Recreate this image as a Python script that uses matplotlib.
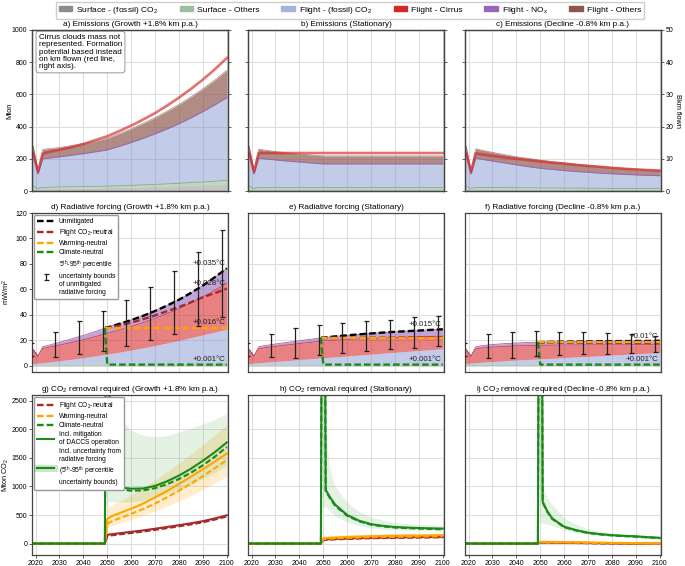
import matplotlib
matplotlib.use('Agg')
import matplotlib.pyplot as plt
import numpy as np
from matplotlib.patches import Patch
from matplotlib.lines import Line2D

plt.rcParams['font.family'] = ['Liberation Sans', 'DejaVu Sans']
plt.rcParams['font.size'] = 5.5
plt.rcParams['mathtext.fontset'] = 'custom'
plt.rcParams['mathtext.rm'] = 'Liberation Sans'
plt.rcParams['mathtext.it'] = 'Liberation Sans:italic'
plt.rcParams['mathtext.bf'] = 'Liberation Sans:bold'

# ---------------- data ----------------
years = [2018, 2019, 2021, 2023, 2025, 2030, 2035, 2040, 2045, 2050,
         2055, 2060, 2065, 2070, 2075, 2080, 2085, 2090, 2095, 2100]

# emissions (Mton, cumulative tops of the stacked layers)
em_gray_growth = [21, 20, 10, 15, 16, 17, 18, 19, 20, 21, 22, 24, 26, 28, 30, 33, 36, 39, 42, 46]
em_surf_growth = [30, 29, 15, 22, 23, 25, 26, 27, 29, 30, 32, 35, 38, 41, 44, 48, 52, 56, 61, 66]
em_co2_growth = [235, 232, 105, 200, 203, 212, 222, 232, 243, 255, 277, 301, 327, 355, 385, 418, 454, 493, 535, 580]
em_tot_growth = [285, 278, 130, 258, 262, 270, 282, 295, 310, 328, 356, 387, 420, 456, 496, 538, 585, 635, 690, 750]
km_growth = [11.6, 11.7, 5.9, 11.6, 12.0, 12.8, 13.6, 14.6, 15.8, 17.0, 18.6, 20.3, 22.2, 24.2, 26.5, 29.0, 31.7, 34.6, 37.8, 41.3]

em_gray_stat = [21, 20, 10, 15, 15, 15, 15, 15, 15, 15, 15, 15, 15, 15, 15, 15, 15, 15, 15, 15]
em_surf_stat = [30, 29, 15, 22, 22, 22, 22, 22, 22, 22, 22, 22, 22, 22, 22, 22, 22, 22, 22, 22]
em_co2_stat = [235, 232, 105, 203, 200, 193, 186, 180, 174, 168, 168, 168, 168, 168, 168, 168, 168, 168, 168, 168]
em_tot_stat = [285, 278, 130, 260, 255, 245, 237, 230, 224, 218, 218, 218, 218, 218, 218, 218, 218, 218, 218, 218]
km_stat = [11.6, 11.7, 5.9, 11.8, 11.8, 11.8, 11.8, 11.8, 11.8, 11.8, 11.8, 11.8, 11.8, 11.8, 11.8, 11.8, 11.8, 11.8, 11.8, 11.8]

em_gray_decl = [21, 20, 10, 15, 15, 14, 14, 14, 13, 13, 13, 12, 12, 12, 11, 11, 11, 10, 10, 10]
em_surf_decl = [30, 29, 15, 22, 22, 21, 21, 20, 20, 19, 19, 18, 18, 17, 17, 16, 16, 15, 15, 15]
em_co2_decl = [235, 232, 105, 203, 198, 186, 174, 162, 151, 141, 134, 127, 121, 116, 111, 107, 103, 100, 97, 95]
em_tot_decl = [285, 278, 130, 262, 255, 240, 226, 213, 202, 192, 183, 175, 167, 160, 153, 147, 142, 137, 133, 130]
km_decl = [11.6, 11.7, 5.9, 11.7, 11.4, 10.9, 10.4, 10.0, 9.6, 9.2, 8.8, 8.5, 8.1, 7.8, 7.5, 7.2, 6.9, 6.7, 6.5, 6.3]

# radiative forcing (mW/m2, cumulative tops)
rf_surf_growth = [0.8, 0.8, 0.8, 0.8, 0.8, 0.9, 0.9, 1.0, 1.0, 1.1, 1.1, 1.2, 1.3, 1.3, 1.4, 1.5, 1.6, 1.6, 1.7, 1.8]
rf_co2_growth = [1.5, 1.7, 2.0, 2.3, 2.7, 3.8, 5.0, 6.3, 7.7, 9.0, 10.6, 12.2, 14.0, 15.8, 17.8, 19.8, 22.0, 24.2, 26.4, 28.5]
rf_cir_growth = [12.5, 12.4, 7.3, 13.5, 14.3, 16.2, 18.2, 20.3, 22.8, 25.5, 28.0, 30.8, 33.8, 37.2, 40.8, 44.8, 49.2, 54.0, 59.2, 65.0]
rf_tot_growth = [12.8, 12.8, 7.5, 14.8, 15.8, 18.3, 21.0, 23.8, 26.8, 30.0, 32.8, 35.8, 39.2, 43.0, 47.2, 51.8, 57.2, 63.0, 69.5, 76.5]

rf_surf_stat = [0.8, 0.8, 0.8, 0.8, 0.8, 0.8, 0.8, 0.9, 0.9, 0.9, 0.9, 0.9, 0.9, 1.0, 1.0, 1.0, 1.0, 1.0, 1.0, 1.0]
rf_co2_stat = [1.5, 1.7, 2.0, 2.3, 2.6, 3.3, 4.0, 4.8, 5.5, 6.2, 6.9, 7.6, 8.3, 9.0, 9.8, 10.5, 11.2, 11.9, 12.6, 13.3]
rf_cir_stat = [12.5, 12.4, 7.3, 13.2, 14.0, 15.2, 16.3, 17.4, 18.4, 19.4, 20.0, 20.5, 21.0, 21.4, 21.8, 22.1, 22.4, 22.7, 23.0, 23.2]
rf_tot_stat = [12.8, 12.8, 7.5, 14.8, 15.6, 17.0, 18.3, 19.5, 20.8, 22.0, 23.0, 23.8, 24.6, 25.3, 26.0, 26.6, 27.1, 27.6, 28.1, 28.6]

rf_surf_decl = [0.8, 0.8, 0.8, 0.8, 0.8, 0.8, 0.8, 0.8, 0.8, 0.8, 0.8, 0.8, 0.8, 0.8, 0.8, 0.8, 0.8, 0.8, 0.8, 0.8]
rf_co2_decl = [1.5, 1.7, 2.0, 2.3, 2.6, 3.2, 3.8, 4.4, 4.9, 5.3, 5.8, 6.3, 6.8, 7.3, 7.8, 8.3, 8.8, 9.3, 9.8, 10.3]
rf_cir_decl = [12.5, 12.4, 7.3, 13.2, 13.8, 14.6, 15.1, 15.5, 15.8, 16.0, 16.1, 16.2, 16.3, 16.3, 16.4, 16.4, 16.4, 16.5, 16.5, 16.5]
rf_tot_decl = [12.8, 12.8, 7.5, 14.8, 15.5, 16.6, 17.3, 17.8, 18.2, 18.5, 18.7, 18.9, 19.0, 19.1, 19.2, 19.3, 19.3, 19.4, 19.4, 19.6]

# mitigated radiative forcing pathways
mit_years = [2049, 2050, 2055, 2060, 2065, 2070, 2075, 2080, 2085, 2090, 2095, 2100]
unmit_growth = [30.0, 30.0, 32.8, 35.8, 39.2, 43.0, 47.2, 51.8, 57.2, 63.0, 69.5, 76.5]
co2n_growth = [29.5, 29.5, 31.5, 33.8, 36.5, 39.5, 42.8, 46.0, 49.8, 53.8, 57.0, 60.5]
warmn_growth = [29.5, 29.5, 29.5, 29.5, 29.5, 29.5, 29.5, 29.5, 29.5, 29.5, 29.5, 29.5]
climn_growth = [29.5, 0.8, 0.8, 0.8, 0.8, 0.8, 0.8, 0.8, 0.8, 0.8, 0.8, 0.8]

unmit_stat = [22.0, 22.0, 23.0, 23.8, 24.6, 25.3, 26.0, 26.6, 27.1, 27.6, 28.1, 28.6]
co2n_stat = [21.6, 21.6, 21.7, 21.8, 21.9, 22.0, 22.0, 22.1, 22.1, 22.2, 22.2, 22.3]
warmn_stat = [22.0, 22.0, 22.0, 22.0, 22.0, 22.0, 22.0, 22.0, 22.0, 22.0, 22.0, 22.0]
climn_stat = [22.0, 0.8, 0.8, 0.8, 0.8, 0.8, 0.8, 0.8, 0.8, 0.8, 0.8, 0.8]

unmit_decl = [18.5, 18.5, 18.7, 18.9, 19.0, 19.1, 19.2, 19.3, 19.3, 19.4, 19.4, 19.6]
co2n_decl = [18.2, 18.2, 18.2, 18.1, 18.1, 18.0, 18.0, 17.9, 17.9, 17.8, 17.8, 17.7]
warmn_decl = [18.5, 18.5, 18.5, 18.5, 18.5, 18.5, 18.5, 18.5, 18.5, 18.5, 18.5, 18.5]
climn_decl = [18.5, 0.8, 0.8, 0.8, 0.8, 0.8, 0.8, 0.8, 0.8, 0.8, 0.8, 0.8]

# 5th-95th percentile bounds of unmitigated forcing
err_years = [2018, 2028, 2038, 2048, 2058, 2068, 2078, 2088, 2098]
err_lo_growth = [7.3, 6.8, 9.1, 11.8, 15.7, 19.9, 24.8, 31.4, 38.2]
err_hi_growth = [17.8, 26.4, 34.8, 43.0, 51.8, 61.7, 74.5, 89.0, 106.7]
err_lo_stat = [7.3, 6.5, 5.8, 8.4, 10.0, 11.4, 12.7, 14.0, 15.4]
err_hi_stat = [17.8, 25.0, 29.5, 31.6, 33.5, 34.8, 36.1, 37.9, 38.7]
err_lo_decl = [7.3, 6.0, 6.0, 7.3, 8.4, 9.1, 9.4, 9.7, 10.5]
err_hi_decl = [17.8, 24.6, 26.4, 27.5, 26.4, 26.4, 25.6, 24.6, 23.5]

# CO2 removal required (Mton CO2)
cdr_years = [2018, 2049, 2050, 2051, 2053, 2055, 2060, 2065, 2070, 2075, 2080, 2085, 2090, 2095, 2100]
band_years = [2050, 2051, 2053, 2055, 2060, 2065, 2070, 2075, 2080, 2085, 2090, 2095, 2100]

cdr_red_growth = [0, 0, 150, 160, 170, 180, 205, 230, 260, 290, 322, 355, 392, 440, 495]
cdr_red_d_growth = [0, 0, 130, 140, 150, 160, 185, 210, 240, 270, 302, 335, 372, 420, 475]
cdr_org_growth = [0, 0, 430, 460, 500, 530, 610, 700, 810, 920, 1045, 1170, 1300, 1435, 1575]
cdr_org_d_growth = [0, 0, 340, 370, 410, 440, 520, 605, 700, 810, 925, 1050, 1180, 1320, 1460]
cdr_grn_growth = [0, 0, 12000, 1060, 1010, 985, 960, 965, 1010, 1090, 1190, 1310, 1450, 1600, 1770]
cdr_grn_d_growth = [0, 0, 12000, 1020, 975, 950, 925, 930, 970, 1040, 1130, 1240, 1370, 1520, 1690]
band_grn_lo_growth = [700, 720, 720, 720, 720, 740, 790, 850, 930, 1020, 1120, 1230, 1350]
band_grn_hi_growth = [12000, 3000, 2400, 2200, 1980, 1890, 1860, 1880, 1940, 2010, 2080, 2160, 2260]
band_org_lo_growth = [280, 300, 330, 360, 420, 490, 570, 650, 740, 840, 950, 1060, 1180]
band_org_hi_growth = [620, 650, 700, 740, 850, 980, 1110, 1260, 1410, 1570, 1730, 1900, 2080]

cdr_red_stat = [0, 0, 70, 74, 78, 82, 90, 96, 101, 105, 108, 111, 113, 115, 117]
cdr_red_d_stat = [0, 0, 62, 66, 70, 74, 82, 88, 93, 97, 100, 103, 105, 107, 109]
cdr_org_stat = [0, 0, 90, 95, 100, 105, 115, 122, 128, 132, 136, 139, 141, 143, 145]
cdr_org_d_stat = [0, 0, 80, 84, 88, 92, 100, 106, 111, 115, 118, 121, 123, 125, 127]
cdr_grn_stat = [0, 0, 12000, 940, 800, 680, 500, 400, 340, 310, 290, 280, 272, 266, 262]
cdr_grn_d_stat = [0, 0, 12000, 920, 780, 660, 485, 390, 330, 300, 280, 270, 262, 256, 250]
band_grn_lo_stat = [600, 650, 560, 480, 370, 305, 265, 245, 235, 228, 222, 218, 215]
band_grn_hi_stat = [12000, 2000, 1300, 1000, 720, 560, 460, 400, 360, 340, 325, 315, 308]
band_org_lo_stat = [50, 55, 60, 64, 72, 80, 86, 90, 94, 97, 99, 101, 103]
band_org_hi_stat = [130, 135, 140, 145, 155, 162, 168, 172, 176, 179, 181, 183, 185]

cdr_red_decl = [0, 0, 22, 21, 20, 19, 16, 13, 10, 7, 4, 2, 0, -1, -2]
cdr_red_d_decl = [0, 0, 18, 17, 16, 15, 12, 9, 6, 3, 1, -1, -2, -3, -4]
cdr_org_decl = [0, 0, 32, 31, 30, 29, 26, 23, 20, 17, 14, 11, 9, 6, 4]
cdr_org_d_decl = [0, 0, 25, 24, 23, 22, 19, 16, 13, 10, 7, 5, 3, 1, 0]
cdr_grn_decl = [0, 0, 12000, 730, 560, 440, 295, 235, 190, 165, 147, 135, 126, 112, 100]
cdr_grn_d_decl = [0, 0, 12000, 720, 550, 430, 287, 228, 184, 160, 142, 130, 121, 108, 96]
band_grn_lo_decl = [350, 360, 330, 310, 230, 180, 160, 140, 120, 105, 90, 80, 70]
band_grn_hi_decl = [12000, 1000, 800, 680, 450, 330, 250, 210, 180, 160, 150, 140, 130]
band_org_lo_decl = [10, 10, 9, 9, 8, 6, 4, 2, 0, -2, -4, -6, -8]
band_org_hi_decl = [50, 48, 47, 46, 43, 40, 37, 34, 31, 28, 25, 22, 20]

scen_names = ['Growth +1.8% km p.a.', 'Stationary', 'Decline -0.8% km p.a.']

# ---------------- style ----------------
C_SURF_CO2 = '#7f7f7f'
C_SURF_OTH = '#7fb07f'
C_FLT_CO2 = '#8193cf'
C_CIRRUS = '#d62728'
C_NOX = '#9467bd'
C_OTHERS = '#8c564b'
C_RED = '#a52a2a'
C_ORG = '#ffa500'
C_GRN = '#1a8a1a'
DASH = (2.8, 1.3)
TICK_FS = 5.0
TITLE_FS = 5.9
LAB_FS = 5.3
LEG_FS = 4.8

W, H = 685, 566
COLS = [(32, 228), (248, 444), (465, 661)]
ROWS = [(30, 191), (213, 372), (395, 555)]

fig = plt.figure(figsize=(W / 100, H / 100), dpi=100)


def add_ax(col, row):
    x0, x1 = COLS[col]
    y0, y1 = ROWS[row]
    ax = fig.add_axes([x0 / W, 1 - y1 / H, (x1 - x0) / W, (y1 - y0) / H])
    ax.grid(True, color='#dcdcdc', lw=0.7)
    ax.set_axisbelow(True)
    for s in ax.spines.values():
        s.set_color('#444444')
        s.set_linewidth(0.9)
    ax.set_xlim(2018.5, 2100.5)
    ax.set_xticks(range(2020, 2101, 10))
    ax.tick_params(length=2, width=0.6, color='#444444', labelsize=TICK_FS, pad=1.5)
    if row < 2:
        ax.tick_params(axis='x', labelbottom=False, length=0)
    if col > 0:
        ax.tick_params(axis='y', labelleft=False)
    return ax


def small_legend(ax, handles, labels):
    ax.legend(handles, labels, loc='upper left', fontsize=LEG_FS, handlelength=2.5,
              handletextpad=0.7, labelspacing=0.3, borderpad=0.5, borderaxespad=0.3,
              framealpha=1, edgecolor='#999999')


# ---------------- row 1: emissions ----------------
emis = [(em_gray_growth, em_surf_growth, em_co2_growth, em_tot_growth, km_growth),
        (em_gray_stat, em_surf_stat, em_co2_stat, em_tot_stat, km_stat),
        (em_gray_decl, em_surf_decl, em_co2_decl, em_tot_decl, km_decl)]
for i, (gray, surf, co2, tot, km) in enumerate(emis):
    ax = add_ax(i, 0)
    ax.fill_between(years, 0, gray, color=C_SURF_CO2, alpha=0.45, lw=0)
    ax.fill_between(years, gray, surf, color=C_SURF_OTH, alpha=0.5, lw=0)
    ax.plot(years, surf, color=C_SURF_OTH, lw=0.6)
    ax.fill_between(years, surf, co2, color=C_FLT_CO2, alpha=0.48, lw=0)
    ax.plot(years, co2, color=C_NOX, lw=0.7)
    ax.fill_between(years, co2, tot, color=C_OTHERS, alpha=0.68, lw=0)
    ax.plot(years, tot, color=C_OTHERS, lw=0.5, alpha=0.7)
    ax.set_ylim(0, 1000)
    ax.set_yticks(range(0, 1001, 200))
    ax.tick_params(axis='x', length=0)
    ax.set_title('%s) Emissions (%s)' % ('abc'[i], scen_names[i]), fontsize=TITLE_FS, pad=3)
    ax2 = ax.twinx()
    ax2.plot(years, km, color=C_CIRRUS, lw=1.9, alpha=0.65)
    ax2.set_ylim(0, 50)
    ax2.set_yticks(range(0, 51, 10))
    ax2.tick_params(length=2, width=0.6, color='#444444', labelsize=TICK_FS, pad=1.5,
                    labelright=(i == 2))
    for s in ax2.spines.values():
        s.set_color('#444444')
        s.set_linewidth(0.9)
    if i == 0:
        ax.set_ylabel('Mton', fontsize=LAB_FS)
        ax.yaxis.set_label_coords(-0.095, 0.5)
        ax.text(0.035, 0.975, 'Cirrus clouds mass not\nrepresented. Formation\npotential based instead\n'
                'on km flown (red line,\nright axis).', transform=ax.transAxes, fontsize=5.8,
                va='top', ha='left', linespacing=1.05,
                bbox=dict(boxstyle='round,pad=0.35', fc='white', ec='#888888', lw=0.6))
    if i == 2:
        ax2.set_ylabel('Bkm flown', fontsize=LAB_FS, rotation=270)
        ax2.yaxis.set_label_coords(1.1, 0.5)

# ---------------- row 2: radiative forcing ----------------
rf = [(rf_surf_growth, rf_co2_growth, rf_cir_growth, rf_tot_growth),
      (rf_surf_stat, rf_co2_stat, rf_cir_stat, rf_tot_stat),
      (rf_surf_decl, rf_co2_decl, rf_cir_decl, rf_tot_decl)]
mits = [(unmit_growth, co2n_growth, warmn_growth, climn_growth),
        (unmit_stat, co2n_stat, warmn_stat, climn_stat),
        (unmit_decl, co2n_decl, warmn_decl, climn_decl)]
errs = [(err_lo_growth, err_hi_growth), (err_lo_stat, err_hi_stat), (err_lo_decl, err_hi_decl)]
notes = [[('+0.035°C', 0), ('+0.028°C', 1), ('+0.016°C', 2), ('+0.001°C', 3)],
         [('+0.015°C', 0), ('+0.001°C', 3)],
         [('+0.01°C', 2), ('+0.001°C', 3)]]

for i in range(3):
    surf, co2, cir, tot = rf[i]
    ax = add_ax(i, 1)
    ax.fill_between(years, 0, surf, color=C_SURF_OTH, alpha=0.6, lw=0)
    ax.fill_between(years, surf, co2, color=C_FLT_CO2, alpha=0.48, lw=0)
    ax.fill_between(years, co2, cir, color=C_CIRRUS, alpha=0.58, lw=0)
    ax.plot(years, cir, color=C_CIRRUS, lw=0.6, alpha=0.8)
    ax.fill_between(years, cir, tot, color=C_NOX, alpha=0.6, lw=0)
    ax.plot(years, tot, color='#a03a6a', lw=0.6, alpha=0.8)

    lo, hi = np.array(errs[i][0]), np.array(errs[i][1])
    eb = ax.errorbar(err_years, (lo + hi) / 2, yerr=(hi - lo) / 2, fmt='none', ecolor='#222222',
                     elinewidth=0.9, capsize=1.8, capthick=0.9, zorder=6)

    unmit, co2n, warmn, climn = mits[i]
    l_un, = ax.plot(mit_years, unmit, color='black', lw=1.7, dashes=DASH, zorder=4)
    l_co, = ax.plot(mit_years, co2n, color=C_RED, lw=1.7, dashes=DASH, zorder=4)
    l_wa, = ax.plot(mit_years, warmn, color=C_ORG, lw=1.7, dashes=DASH, zorder=4)
    l_cl, = ax.plot(mit_years, climn, color=C_GRN, lw=1.7, dashes=DASH, zorder=4)
    for label, k in notes[i]:
        ax.annotate(label, xy=(2100, mits[i][k][-1]), xytext=(-1, 1.2), textcoords='offset points',
                    ha='right', va='bottom', fontsize=5.7, color='#222222', zorder=7)

    ax.set_ylim(-5, 120)
    ax.set_yticks(range(0, 121, 20))
    ax.set_title('%s) Radiative forcing (%s)' % ('def'[i], scen_names[i]), fontsize=TITLE_FS, pad=3)
    if i == 0:
        ax.set_ylabel('mW/m$^2$', fontsize=LAB_FS)
        ax.yaxis.set_label_coords(-0.1, 0.5)
        small_legend(ax, [l_un, l_co, l_wa, l_cl, eb],
                     ['Unmitigated', 'Flight CO$_2$-neutral', 'Warming-neutral', 'Climate-neutral',
                      '5$^{\\rm th}$-95$^{\\rm th}$ percentile\nuncertainty bounds\nof unmitigated\nradiative forcing'])
    else:
        ax.tick_params(axis='y', length=0)

# ---------------- row 3: CO2 removal ----------------
cdr = [(cdr_red_growth, cdr_red_d_growth, cdr_org_growth, cdr_org_d_growth, cdr_grn_growth, cdr_grn_d_growth,
        band_grn_lo_growth, band_grn_hi_growth, band_org_lo_growth, band_org_hi_growth),
       (cdr_red_stat, cdr_red_d_stat, cdr_org_stat, cdr_org_d_stat, cdr_grn_stat, cdr_grn_d_stat,
        band_grn_lo_stat, band_grn_hi_stat, band_org_lo_stat, band_org_hi_stat),
       (cdr_red_decl, cdr_red_d_decl, cdr_org_decl, cdr_org_d_decl, cdr_grn_decl, cdr_grn_d_decl,
        band_grn_lo_decl, band_grn_hi_decl, band_org_lo_decl, band_org_hi_decl)]

for i in range(3):
    red, red_d, org, org_d, grn, grn_d, glo, ghi, olo, ohi = cdr[i]
    ax = add_ax(i, 2)
    ax.fill_between(band_years, olo, ohi, color=C_ORG, alpha=0.2, lw=0)
    ax.fill_between(band_years, glo, ghi, color='#2ca02c', alpha=0.13, lw=0)
    ax.plot(cdr_years, red, color=C_RED, lw=1.5)
    ax.plot(cdr_years, red_d, color=C_RED, lw=1.5, dashes=DASH)
    ax.plot(cdr_years, org, color=C_ORG, lw=1.5)
    ax.plot(cdr_years, org_d, color=C_ORG, lw=1.5, dashes=DASH)
    ax.plot(cdr_years, grn_d, color=C_GRN, lw=1.5, dashes=DASH)
    ax.plot(cdr_years, grn, color=C_GRN, lw=1.5)
    ax.set_ylim(-200, 2600)
    ax.set_yticks(range(0, 2501, 500))
    ax.set_title('%s) CO$_2$ removal required (%s)' % ('ghi'[i], scen_names[i]), fontsize=TITLE_FS, pad=3)
    if i == 0:
        ax.set_ylabel('Mton CO$_2$', fontsize=LAB_FS)
        ax.yaxis.set_label_coords(-0.105, 0.5)
        h_unc = (Line2D([], [], color='#2ca02c', alpha=0.25, lw=5), Line2D([], [], color=C_GRN, lw=1.5))
        small_legend(ax, [Line2D([], [], color=C_RED, lw=1.7, dashes=DASH),
                          Line2D([], [], color=C_ORG, lw=1.7, dashes=DASH),
                          Line2D([], [], color=C_GRN, lw=1.7, dashes=DASH),
                          Line2D([], [], color=C_GRN, lw=1.5), h_unc],
                     ['Flight CO$_2$-neutral', 'Warming-neutral', 'Climate-neutral',
                      'Incl. mitigation\nof DACCS operation',
                      'Incl. uncertainty from\nradiative forcing\n(5$^{\\rm th}$-95$^{\\rm th}$ percentile\nuncertainty bounds)'])
    else:
        ax.tick_params(axis='y', length=0)

# ---------------- top legend ----------------
handles = [Patch(color='#8c8c8c'), Patch(color='#9dbf9d'), Patch(color='#a6b2dc'),
           Patch(color=C_CIRRUS), Patch(color=C_NOX), Patch(color=C_OTHERS)]
labels = ['Surface - (fossil) CO$_2$', 'Surface - Others', 'Flight - (fossil) CO$_2$',
          'Flight - Cirrus', 'Flight - NO$_x$', 'Flight - Others']
fig.legend(handles, labels, loc='upper center', bbox_to_anchor=(350 / W, 1.0), ncol=6,
           fontsize=6.1, frameon=True, edgecolor='#cccccc', framealpha=1, handlelength=1.6,
           handleheight=0.6, handletextpad=0.5, columnspacing=2.5, borderpad=0.35,
           borderaxespad=0.2)

fig.savefig('out.png', dpi=100)
